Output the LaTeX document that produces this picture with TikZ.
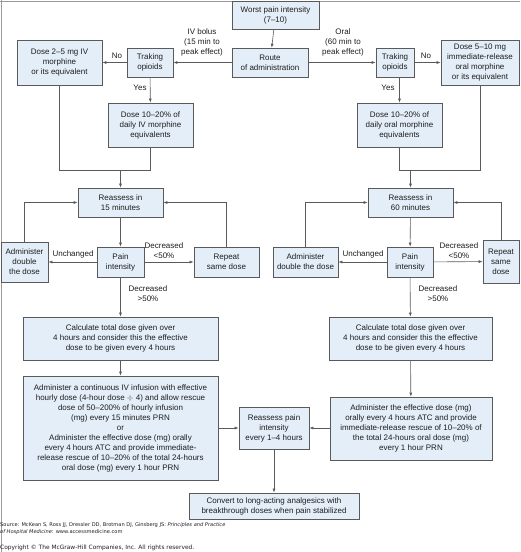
\documentclass[tikz,border=0pt]{standalone}
\usepackage{fontspec}
\setmainfont{Liberation Sans}
\newfontfamily\srcfont{DejaVu Sans}
\usetikzlibrary{arrows.meta, positioning, calc}
\definecolor{boxfill}{HTML}{E4EEF8}
\definecolor{boxline}{HTML}{5A5A5A}
\definecolor{inkgray}{HTML}{1E1E1E}
\definecolor{framegray}{HTML}{9A9A9A}

\begin{document}
\begin{tikzpicture}[
  x=1pt, y=-1pt,
  >={Latex[length=4pt, width=3pt]},
  every node/.style={text=inkgray, font=\fontsize{8}{10}\selectfont},
  box/.style={draw=boxline, fill=boxfill, line width=0.7pt, align=center, inner sep=1pt},
  flow/.style={draw=boxline, line width=0.6pt},
  lbl/.style={align=center, inner sep=1pt},
]

% Canvas and frame
\useasboundingbox (0,0) rectangle (520,552);
\draw[framegray, line width=0.8pt] (0,1) -- (520,1);
\draw[framegray, line width=0.8pt] (1,0) -- (1,552);

% Top
\node[box, minimum width=87pt, minimum height=28pt] (worst) at (275.5,15) {Worst pain intensity\\(7--10)};
\node[box, minimum width=76pt, minimum height=29pt] (route) at (270,62.5) {Route\\of administration};

% IV branch
\node[box, minimum width=46pt, minimum height=29pt] (trakL) at (150,62.5) {Traking\\opioids};
\node[box, minimum width=85pt, minimum height=45pt] (doseL) at (59.5,62.5) {Dose 2--5 mg IV\\morphine\\or its equivalent};
\node[box, minimum width=85pt, minimum height=44pt] (pctL) at (150.5,125) {Dose 10--20\% of\\daily IV morphine\\equivalents};

% Oral branch
\node[box, minimum width=38pt, minimum height=29pt] (trakR) at (395,62.5) {Traking\\opioids};
\node[box, minimum width=78pt, minimum height=45pt] (doseR) at (480,62.5) {Dose 5--10 mg\\immediate-release\\oral morphine\\or its equivalent};
\node[box, minimum width=85pt, minimum height=44pt] (pctR) at (399.5,125) {Dose 10--20\% of\\daily oral morphine\\equivalents};

% Reassess loops
\node[box, minimum width=85pt, minimum height=29pt] (reL) at (120.5,202.5) {Reassess in\\15 minutes};
\node[box, minimum width=47pt, minimum height=30pt] (painL) at (120.5,262) {Pain\\intensity};
\node[box, minimum width=47pt, minimum height=40pt] (dblL) at (24.5,262) {Administer\\double\\the dose};
\node[box, minimum width=65pt, minimum height=30pt] (repL) at (226.5,262) {Repeat\\same dose};

\node[box, minimum width=85pt, minimum height=29pt] (reR) at (410.5,202.5) {Reassess in\\60 minutes};
\node[box, minimum width=46pt, minimum height=30pt] (painR) at (410,262) {Pain\\intensity};
\node[box, minimum width=65pt, minimum height=30pt] (dblR) at (305.5,262) {Administer\\double the dose};
\node[box, minimum width=36pt, minimum height=43pt] (repR) at (501,261.5) {Repeat\\same\\dose};

% Effective dose
\node[box, minimum width=195pt, minimum height=43pt] (calcL) at (120.5,338.5) {Calculate total dose given over\\4 hours and consider this the effective\\dose to be given every 4 hours};
\node[box, minimum width=195pt, minimum height=104pt] (admL) at (120.5,428) {Administer a continuous IV infusion with effective\\hourly dose (4-hour dose $\div$ 4) and allow rescue\\dose of 50--200\% of hourly infusion\\(mg) every 15 minutes PRN\\or\\Administer the effective dose (mg) orally\\every 4 hours ATC and provide immediate-\\release rescue of 10--20\% of the total 24-hours\\oral dose (mg) every 1 hour PRN};
\node[box, minimum width=163pt, minimum height=43pt] (calcR) at (410.5,338.5) {Calculate total dose given over\\4 hours and consider this the effective\\dose to be given every 4 hours};
\node[box, minimum width=162pt, minimum height=63pt] (admR) at (411,428.5) {Administer the effective dose (mg)\\orally every 4 hours ATC and provide\\immediate-release rescue of 10--20\% of\\the total 24-hours oral dose (mg)\\every 1 hour PRN};

% Bottom
\node[box, minimum width=70pt, minimum height=42pt] (reP) at (274,428) {Reassess pain\\intensity\\every 1--4 hours};
\node[box, minimum width=170pt, minimum height=26pt] (conv) at (274,506) {Convert to long-acting analgesics with\\breakthrough doses when pain stabilized};

% Merge points
\coordinate (mgL) at (120.5,170);
\coordinate (mgR) at (410.5,170);

% Connectors
\draw[flow, ->] (worst) -- (route);
\draw[flow, ->] (route) -- (trakL);
\draw[flow, ->] (trakL) -- (doseL);
\draw[flow, ->] (trakL) -- (pctL);
\draw[flow, ->] (route) -- (trakR);
\draw[flow, ->] (trakR) -- (doseR);
\draw[flow, ->] (pctR.north |- trakR.south) -- (pctR.north);

\draw[flow] (doseL.south) |- (mgL);
\draw[flow] (pctL.south) |- (mgL);
\draw[flow, ->] (mgL) -- (reL);
\draw[flow] (pctR.south) |- (mgR);
\draw[flow] (doseR.south) |- (mgR);
\draw[flow, ->] (mgR) -- (reR);

\draw[flow, ->] (reL) -- (painL);
\draw[flow, ->] (painL) -- (dblL);
\draw[flow, ->] (painL) -- (repL);
\draw[flow, ->] (dblL.north) |- (reL.west);
\draw[flow, ->] (repL.north) |- (reL.east);
\draw[flow, ->] (painL) -- (calcL);
\draw[flow, ->] (calcL) -- (admL);

\draw[flow, ->] (reR) -- (painR);
\draw[flow, ->] (painR) -- (dblR);
\draw[flow, ->] (painR) -- (repR);
\draw[flow, ->] (dblR.north) |- (reR.west);
\draw[flow, ->] (repR.north) |- (reR.east);
\draw[flow, ->] (painR) -- (calcR);
\draw[flow, ->] (calcR) -- (admR);

\draw[flow, ->] (admL.east |- reP.west) -- (reP.west);
\draw[flow, ->] (admR.west |- reP.east) -- (reP.east);
\draw[flow, ->] (reP) -- (conv);

% Connector labels
\node[lbl] (ivlbl) at (202,42.5) {IV bolus\\(15 min to\\peak effect)};
\node[lbl] (orlbl) at (343,42.5) {Oral\\(60 min to\\peak effect)};
\node[lbl] (noL) at (117,56) {No};
\node[lbl] (noR) at (426,56) {No};
\node[lbl] (yesL) at (140,88) {Yes};
\node[lbl] (yesR) at (388,88) {Yes};
\node[lbl] (unL) at (73,254) {Unchanged};
\node[lbl] (unR) at (363,254) {Unchanged};
\node[lbl] (dsL) at (164,251) {Decreased\\<50\%};
\node[lbl] (dsR) at (459,251) {Decreased\\<50\%};
\node[lbl] (dbL) at (148,294) {Decreased\\>50\%};
\node[lbl] (dbR) at (438,294) {Decreased\\>50\%};

% Source
\node[anchor=north west, align=left, inner sep=0pt, font=\srcfont\fontsize{5.1}{7}\selectfont] (src) at (0,522)
  {Source: McKean S, Ross JJ, Dressler DD, Brotman DJ, Ginsberg JS: \textit{Principles and Practice}\\\textit{of Hospital Medicine}: www.accessmedicine.com};
\node[anchor=north west, inner sep=0pt, font=\srcfont\fontsize{5.9}{7}\selectfont] (copy) at (0,545)
  {Copyright \textcopyright{} The McGraw-Hill Companies, Inc. All rights reserved.};

\end{tikzpicture}
\end{document}
